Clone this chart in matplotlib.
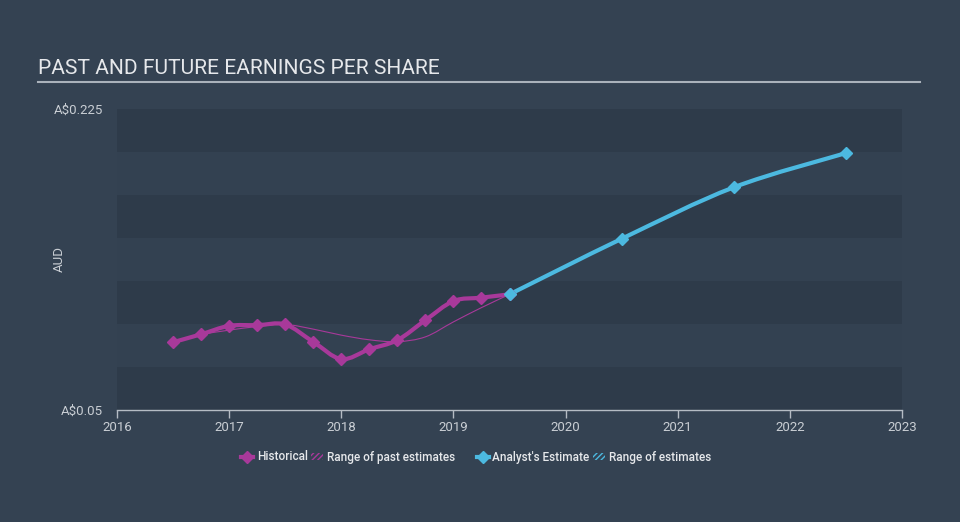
import numpy as np
import matplotlib
matplotlib.use("Agg")
import matplotlib.pyplot as plt
from matplotlib.path import Path
from matplotlib.patches import PathPatch, Patch
from matplotlib.lines import Line2D

plt.rcParams["font.family"] = ["Roboto", "DejaVu Sans"]

# data
hist_x = [2016.5, 2016.75, 2017.0, 2017.25, 2017.5, 2017.75, 2018.0,
          2018.25, 2018.5, 2018.75, 2019.0, 2019.25, 2019.5]
hist_y = [0.0894, 0.0940, 0.0989, 0.0993, 0.0997, 0.0896, 0.0796,
          0.0853, 0.0906, 0.1022, 0.1133, 0.1153, 0.1172]

past_est_x = [2016.75, 2017.0, 2017.25, 2017.5, 2017.75, 2018.0,
              2018.25, 2018.5, 2018.75, 2019.0, 2019.25, 2019.5]
past_est_y = [0.0940, 0.0964, 0.0985, 0.0997, 0.0970, 0.0935,
              0.0908, 0.0897, 0.0925, 0.1012, 0.1095, 0.1172]

fc_x = [2019.5, 2020.5, 2021.5, 2022.5]
fc_y = [0.1172, 0.1495, 0.1794, 0.1993]

y_ticks = [0.05, 0.225]
y_tick_labels = [r"A\$0.05", r"A\$0.225"]
x_ticks = [2016, 2017, 2018, 2019, 2020, 2021, 2022, 2023]

BG = "#344252"
BAND_DARK = "#2e3b4a"
BAND_LIGHT = "#334151"
MAGENTA = "#a8399a"
CYAN = "#4cb9e0"
TXT = "#c9ced4"


def smooth_path(xs, ys, t=0.5):
    """cubic bezier path through the points (catmull-rom style)"""
    pts = np.column_stack([xs, ys]).astype(float)
    n = len(pts)
    verts = [pts[0]]
    codes = [Path.MOVETO]
    for i in range(n - 1):
        p0 = pts[i - 1] if i > 0 else pts[i]
        p1 = pts[i]
        p2 = pts[i + 1]
        p3 = pts[i + 2] if i + 2 < n else pts[i + 1]
        c1 = p1 + (p2 - p0) * t / 3
        c2 = p2 - (p3 - p1) * t / 3
        verts += [c1, c2, p2]
        codes += [Path.CURVE4] * 3
    return Path(verts, codes)


fig = plt.figure(figsize=(9.6, 5.22), dpi=100, facecolor=BG)
ax = fig.add_axes([117 / 960, 1 - 410 / 522, 785 / 960, 302 / 522])
ax.set_facecolor(BG)

# alternating bands
edges = np.linspace(0.05, 0.225, 8)
for i in range(7):
    col = BAND_DARK if i % 2 == 0 else BAND_LIGHT
    ax.axhspan(edges[i], edges[i + 1], color=col, lw=0, zorder=0)

ax.set_xlim(2016, 2023)
ax.set_ylim(0.05, 0.2255)

# range of past estimates (thin)
ax.add_patch(PathPatch(smooth_path(past_est_x, past_est_y), fill=False,
                       ec=MAGENTA, lw=0.8, zorder=2))
# historical
ax.add_patch(PathPatch(smooth_path(hist_x, hist_y), fill=False,
                       ec=MAGENTA, lw=3, zorder=3, capstyle="round"))
ax.plot(hist_x, hist_y, ls="none", marker="D", ms=6, color=MAGENTA, zorder=4)
# forecast
ax.add_patch(PathPatch(smooth_path(fc_x, fc_y), fill=False,
                       ec=CYAN, lw=3, zorder=3, capstyle="round"))
ax.plot(fc_x, fc_y, ls="none", marker="D", ms=6, color=CYAN, zorder=5)

for s in ["top", "right", "left"]:
    ax.spines[s].set_visible(False)
ax.spines["bottom"].set_color("#b5bcc4")
ax.spines["bottom"].set_linewidth(1)

ax.set_xticks(x_ticks)
ax.set_xticklabels([str(x) for x in x_ticks])
ax.tick_params(axis="x", colors="#b5bcc4", labelcolor=TXT, labelsize=9.5,
               length=6, width=1, pad=2)
ax.set_yticks(y_ticks)
ax.set_yticklabels(y_tick_labels)
ax.tick_params(axis="y", length=0, labelcolor=TXT, labelsize=9.5, pad=10)
ax.set_ylabel("AUD", color=TXT, fontsize=9.5)
ax.yaxis.set_label_coords(-51 / 785, 0.5)

# title and rule
fig.text(38 / 960, 1 - 69 / 522, "PAST AND FUTURE EARNINGS PER SHARE",
         color="#e6e8eb", fontsize=15.1, va="center", ha="left")
fig.add_artist(Line2D([38 / 960, 920 / 960], [1 - 82 / 522, 1 - 82 / 522],
                      color="#aab2bb", lw=1.5))

# legend, split in two groups like the reference
leg_y = 1 - 457 / 522
groups = [
    ([Line2D([], [], color=MAGENTA, lw=3, marker="D", ms=6),
      Patch(facecolor="none", edgecolor=MAGENTA, hatch="//////", lw=0)],
     ["Historical", "Range of past estimates"], 348 / 960),
    ([Line2D([], [], color=CYAN, lw=3, marker="D", ms=6),
      Patch(facecolor="none", edgecolor=CYAN, hatch="//////", lw=0)],
     ["Analyst's Estimate", "Range of estimates"], 594 / 960),
]
for hs, ls, cx in groups:
    leg = fig.legend(hs, ls, loc="center", ncol=2, bbox_to_anchor=(cx, leg_y),
                     frameon=False, fontsize=8.5, handlelength=1.0,
                     handletextpad=0.3, columnspacing=0.3, handleheight=0.6,
                     borderpad=0, borderaxespad=0)
    for t in leg.get_texts():
        t.set_color("#e6e8eb")
        t.set_fontweight("medium")

fig.savefig("out.png", dpi=100, facecolor=BG)
